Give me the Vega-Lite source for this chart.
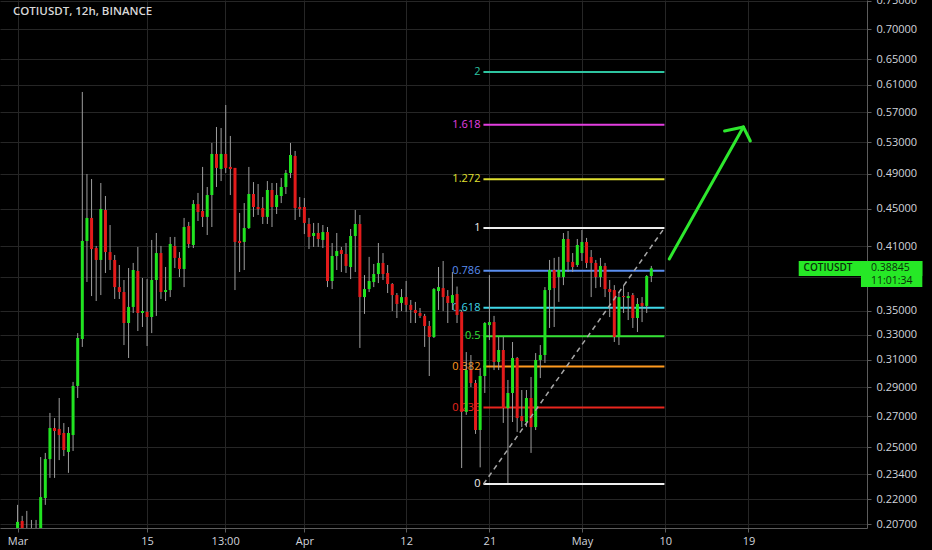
{
"$schema": "https://vega.github.io/schema/vega-lite/v6.json",
"width": 867,
"height": 528,
"autosize": {"type": "none"},
"padding": {"left": 0, "top": 0, "right": 65, "bottom": 22},
"background": "#000000",
"config": {
  "view": {"stroke": null},
  "axis": {"gridColor": "#262626", "gridWidth": 1, "domainColor": "#5c5c5c", "tickColor": "#5c5c5c", "labelColor": "#d1d4dc", "labelFont": "Open Sans", "labelFontSize": 11, "tickSize": 4}
},
"layer": [
  {
    "data": {"values": [
      {"lv": "0", "p": 0.2284}, {"lv": "0.236", "p": 0.2757}, {"lv": "0.382", "p": 0.3050}, {"lv": "0.5", "p": 0.3287}, {"lv": "0.618", "p": 0.3524},
      {"lv": "0.786", "p": 0.3861}, {"lv": "1", "p": 0.4290}, {"lv": "1.272", "p": 0.4836}, {"lv": "1.618", "p": 0.5530}, {"lv": "2", "p": 0.6296}
    ]},
    "mark": {"type": "rule", "strokeWidth": 2},
    "encoding": {
      "x": {"datum": {"year": 2021, "month": 4, "date": 20, "hours": 8, "minutes": 30, "utc": true}, "type": "temporal", "title": null,
        "scale": {"type": "utc", "nice": false, "domain": [{"year": 2021, "month": 2, "date": 27, "hours": 15, "minutes": 26, "utc": true}, {"year": 2021, "month": 5, "date": 31, "hours": 6, "minutes": 30, "utc": true}]},
        "axis": {"orient": "bottom", "grid": true, "labelOverlap": false, "labelFlush": false, "labelPadding": 3,
          "values": [
            {"year": 2021, "month": 3, "date": 1, "utc": true},
            {"year": 2021, "month": 3, "date": 15, "utc": true},
            {"year": 2021, "month": 3, "date": 23, "hours": 10, "minutes": 30, "utc": true},
            {"year": 2021, "month": 4, "date": 1, "utc": true},
            {"year": 2021, "month": 4, "date": 12, "utc": true},
            {"year": 2021, "month": 4, "date": 21, "utc": true},
            {"year": 2021, "month": 5, "date": 1, "utc": true},
            {"year": 2021, "month": 5, "date": 10, "utc": true},
            {"year": 2021, "month": 5, "date": 19, "utc": true}
          ],
          "labelExpr": "utchours(datum.value) == 10 ? '13:00' : (utcdate(datum.value) == 1 ? utcFormat(datum.value, '%b') : utcFormat(datum.value, '%d'))"}},
      "x2": {"datum": {"year": 2021, "month": 5, "date": 9, "hours": 22, "utc": true}},
      "y": {"field": "p", "type": "quantitative", "title": null,
        "scale": {"type": "log", "nice": false, "zero": false, "domain": [0.205, 0.7518]},
        "axis": {"orient": "right", "grid": true, "labelAlign": "left", "labelPadding": 5, "labelOverlap": false,
          "values": [0.207, 0.22, 0.234, 0.25, 0.27, 0.29, 0.31, 0.33, 0.35, 0.38, 0.41, 0.45, 0.49, 0.53, 0.57, 0.61, 0.65, 0.7, 0.75],
          "labelExpr": "datum.value == 0.38 ? '' : format(datum.value, '.5f')"}},
      "color": {"field": "lv", "type": "nominal", "legend": null,
        "scale": {"domain": ["0", "0.236", "0.382", "0.5", "0.618", "0.786", "1", "1.272", "1.618", "2"],
          "range": ["#eeeeee", "#e8261e", "#ff9a1f", "#33e033", "#3fd8e8", "#5a8ef0", "#eeeeee", "#e0e030", "#e33fe0", "#2ec4a0"]}}
    }
  },
  {
    "data": {"values": [
      {"lv": "0", "p": 0.2284}, {"lv": "0.236", "p": 0.2757}, {"lv": "0.382", "p": 0.3050}, {"lv": "0.5", "p": 0.3287}, {"lv": "0.618", "p": 0.3524},
      {"lv": "0.786", "p": 0.3861}, {"lv": "1", "p": 0.4290}, {"lv": "1.272", "p": 0.4836}, {"lv": "1.618", "p": 0.5530}, {"lv": "2", "p": 0.6296}
    ]},
    "mark": {"type": "text", "align": "right", "baseline": "middle", "dx": -3, "font": "Open Sans", "fontSize": 11},
    "encoding": {
      "x": {"datum": {"year": 2021, "month": 4, "date": 20, "hours": 8, "minutes": 30, "utc": true}, "type": "temporal", "title": null,
        "scale": {"type": "utc", "nice": false, "domain": [{"year": 2021, "month": 2, "date": 27, "hours": 15, "minutes": 26, "utc": true}, {"year": 2021, "month": 5, "date": 31, "hours": 6, "minutes": 30, "utc": true}]}},
      "y": {"field": "p", "type": "quantitative", "title": null, "scale": {"type": "log", "nice": false, "zero": false, "domain": [0.205, 0.7518]}},
      "text": {"field": "lv"},
      "color": {"field": "lv", "type": "nominal", "legend": null}
    }
  },
  {
    "data": {"values": [
{"t":"2021-03-01 00","o":0.2045,"h":0.2170,"l":0.2025,"c":0.2081},
{"t":"2021-03-01 12","o":0.2086,"h":0.2112,"l":0.2035,"c":0.2050},
{"t":"2021-03-02 00","o":0.2030,"h":0.2138,"l":0.1980,"c":0.2010},
{"t":"2021-03-02 12","o":0.2005,"h":0.2091,"l":0.1970,"c":0.2020},
{"t":"2021-03-03 00","o":0.2020,"h":0.2091,"l":0.1990,"c":0.2035},
{"t":"2021-03-03 12","o":0.2035,"h":0.2441,"l":0.2015,"c":0.2212},
{"t":"2021-03-04 00","o":0.2207,"h":0.2466,"l":0.2170,"c":0.2429},
{"t":"2021-03-04 12","o":0.2429,"h":0.2721,"l":0.2319,"c":0.2622},
{"t":"2021-03-05 00","o":0.2622,"h":0.2687,"l":0.2319,"c":0.2603},
{"t":"2021-03-05 12","o":0.2616,"h":0.2823,"l":0.2423,"c":0.2577},
{"t":"2021-03-06 00","o":0.2590,"h":0.2654,"l":0.2447,"c":0.2484},
{"t":"2021-03-06 12","o":0.2472,"h":0.2628,"l":0.2348,"c":0.2590},
{"t":"2021-03-07 00","o":0.2577,"h":0.2937,"l":0.2478,"c":0.2908},
{"t":"2021-03-07 12","o":0.2908,"h":0.3312,"l":0.2823,"c":0.3272},
{"t":"2021-03-08 00","o":0.3264,"h":0.5995,"l":0.3201,"c":0.4155},
{"t":"2021-03-08 12","o":0.4155,"h":0.4899,"l":0.3756,"c":0.4397},
{"t":"2021-03-09 00","o":0.4397,"h":0.4839,"l":0.3628,"c":0.4073},
{"t":"2021-03-09 12","o":0.4083,"h":0.4104,"l":0.3584,"c":0.3965},
{"t":"2021-03-10 00","o":0.3965,"h":0.4792,"l":0.3637,"c":0.4495},
{"t":"2021-03-10 12","o":0.4484,"h":0.4641,"l":0.3840,"c":0.4043},
{"t":"2021-03-11 00","o":0.4043,"h":0.4321,"l":0.3868,"c":0.3965},
{"t":"2021-03-11 12","o":0.3965,"h":0.4014,"l":0.3602,"c":0.3709},
{"t":"2021-03-12 00","o":0.3709,"h":0.3916,"l":0.3602,"c":0.3664},
{"t":"2021-03-12 12","o":0.3664,"h":0.3774,"l":0.3216,"c":0.3395},
{"t":"2021-03-13 00","o":0.3395,"h":0.3887,"l":0.3115,"c":0.3532},
{"t":"2021-03-13 12","o":0.3532,"h":0.3936,"l":0.3480,"c":0.3868},
{"t":"2021-03-14 00","o":0.3859,"h":0.4094,"l":0.3329,"c":0.3480},
{"t":"2021-03-14 12","o":0.3480,"h":0.3793,"l":0.3362,"c":0.3497},
{"t":"2021-03-15 00","o":0.3489,"h":0.3783,"l":0.3208,"c":0.3446},
{"t":"2021-03-15 12","o":0.3446,"h":0.4165,"l":0.3312,"c":0.3774},
{"t":"2021-03-16 00","o":0.3774,"h":0.4237,"l":0.3455,"c":0.4033},
{"t":"2021-03-16 12","o":0.4033,"h":0.4104,"l":0.3602,"c":0.3664},
{"t":"2021-03-17 00","o":0.3664,"h":0.3897,"l":0.3584,"c":0.3682},
{"t":"2021-03-17 12","o":0.3682,"h":0.4196,"l":0.3619,"c":0.4124},
{"t":"2021-03-18 00","o":0.4104,"h":0.4196,"l":0.3887,"c":0.3985},
{"t":"2021-03-18 12","o":0.3985,"h":0.4043,"l":0.3802,"c":0.3878},
{"t":"2021-03-19 00","o":0.3878,"h":0.4397,"l":0.3709,"c":0.4300},
{"t":"2021-03-19 12","o":0.4310,"h":0.4354,"l":0.4083,"c":0.4124},
{"t":"2021-03-20 00","o":0.4114,"h":0.4595,"l":0.4083,"c":0.4550},
{"t":"2021-03-20 12","o":0.4550,"h":0.4676,"l":0.4364,"c":0.4462},
{"t":"2021-03-21 00","o":0.4473,"h":0.4985,"l":0.4300,"c":0.4408},
{"t":"2021-03-21 12","o":0.4408,"h":0.4745,"l":0.4216,"c":0.4652},
{"t":"2021-03-22 00","o":0.4652,"h":0.5288,"l":0.4300,"c":0.5147},
{"t":"2021-03-22 12","o":0.5147,"h":0.5500,"l":0.4745,"c":0.4973},
{"t":"2021-03-23 00","o":0.4960,"h":0.5486,"l":0.4815,"c":0.5147},
{"t":"2021-03-23 12","o":0.5147,"h":0.5806,"l":0.4912,"c":0.4973},
{"t":"2021-03-24 00","o":0.4985,"h":0.5380,"l":0.4652,"c":0.4960},
{"t":"2021-03-24 12","o":0.4973,"h":0.4973,"l":0.3682,"c":0.4145},
{"t":"2021-03-25 00","o":0.4155,"h":0.4451,"l":0.3849,"c":0.4134},
{"t":"2021-03-25 12","o":0.4145,"h":0.4561,"l":0.3868,"c":0.4289},
{"t":"2021-03-26 00","o":0.4289,"h":0.4985,"l":0.4279,"c":0.4664},
{"t":"2021-03-26 12","o":0.4664,"h":0.4803,"l":0.4408,"c":0.4517},
{"t":"2021-03-27 00","o":0.4517,"h":0.4780,"l":0.4429,"c":0.4495},
{"t":"2021-03-27 12","o":0.4506,"h":0.4629,"l":0.4332,"c":0.4408},
{"t":"2021-03-28 00","o":0.4408,"h":0.4815,"l":0.4332,"c":0.4710},
{"t":"2021-03-28 12","o":0.4710,"h":0.4792,"l":0.4300,"c":0.4517},
{"t":"2021-03-29 00","o":0.4517,"h":0.4792,"l":0.4440,"c":0.4652},
{"t":"2021-03-29 12","o":0.4641,"h":0.4851,"l":0.4561,"c":0.4745},
{"t":"2021-03-30 00","o":0.4745,"h":0.4948,"l":0.4664,"c":0.4912},
{"t":"2021-03-30 12","o":0.4912,"h":0.5288,"l":0.4851,"c":0.5134},
{"t":"2021-03-31 00","o":0.5122,"h":0.5185,"l":0.4375,"c":0.4506},
{"t":"2021-03-31 12","o":0.4517,"h":0.4629,"l":0.4408,"c":0.4495},
{"t":"2021-04-01 00","o":0.4517,"h":0.4618,"l":0.4226,"c":0.4343},
{"t":"2021-04-01 12","o":0.4332,"h":0.4397,"l":0.4073,"c":0.4196},
{"t":"2021-04-02 00","o":0.4206,"h":0.4343,"l":0.4094,"c":0.4237},
{"t":"2021-04-02 12","o":0.4237,"h":0.4343,"l":0.4094,"c":0.4175},
{"t":"2021-04-03 00","o":0.4165,"h":0.4321,"l":0.4083,"c":0.4247},
{"t":"2021-04-03 12","o":0.4247,"h":0.4300,"l":0.3709,"c":0.3765},
{"t":"2021-04-04 00","o":0.3765,"h":0.4134,"l":0.3691,"c":0.4004},
{"t":"2021-04-04 12","o":0.4004,"h":0.4237,"l":0.3868,"c":0.4053},
{"t":"2021-04-05 00","o":0.4063,"h":0.4094,"l":0.3849,"c":0.4024},
{"t":"2021-04-05 12","o":0.4024,"h":0.4134,"l":0.3840,"c":0.3907},
{"t":"2021-04-06 00","o":0.3897,"h":0.4279,"l":0.3783,"c":0.4206},
{"t":"2021-04-06 12","o":0.4206,"h":0.4484,"l":0.3849,"c":0.4332},
{"t":"2021-04-07 00","o":0.4332,"h":0.4429,"l":0.3193,"c":0.3619},
{"t":"2021-04-07 12","o":0.3619,"h":0.3820,"l":0.3472,"c":0.3691},
{"t":"2021-04-08 00","o":0.3691,"h":0.3995,"l":0.3664,"c":0.3765},
{"t":"2021-04-08 12","o":0.3755,"h":0.3926,"l":0.3709,"c":0.3830},
{"t":"2021-04-09 00","o":0.3830,"h":0.4134,"l":0.3746,"c":0.3936},
{"t":"2021-04-09 12","o":0.3936,"h":0.4033,"l":0.3774,"c":0.3830},
{"t":"2021-04-10 00","o":0.3840,"h":0.3916,"l":0.3655,"c":0.3737},
{"t":"2021-04-10 12","o":0.3737,"h":0.3746,"l":0.3497,"c":0.3637},
{"t":"2021-04-11 00","o":0.3637,"h":0.3655,"l":0.3437,"c":0.3558},
{"t":"2021-04-11 12","o":0.3567,"h":0.3691,"l":0.3497,"c":0.3619},
{"t":"2021-04-12 00","o":0.3619,"h":0.3765,"l":0.3489,"c":0.3550},
{"t":"2021-04-12 12","o":0.3550,"h":0.3593,"l":0.3395,"c":0.3506},
{"t":"2021-04-13 00","o":0.3506,"h":0.3576,"l":0.3395,"c":0.3480},
{"t":"2021-04-13 12","o":0.3480,"h":0.3523,"l":0.3437,"c":0.3455},
{"t":"2021-04-14 00","o":0.3455,"h":0.3472,"l":0.3201,"c":0.3370},
{"t":"2021-04-14 12","o":0.3370,"h":0.3412,"l":0.2980,"c":0.3280},
{"t":"2021-04-15 00","o":0.3280,"h":0.3700,"l":0.3272,"c":0.3691},
{"t":"2021-04-15 12","o":0.3673,"h":0.3897,"l":0.3506,"c":0.3709},
{"t":"2021-04-16 00","o":0.3700,"h":0.3955,"l":0.3497,"c":0.3619},
{"t":"2021-04-16 12","o":0.3628,"h":0.3682,"l":0.3395,"c":0.3567},
{"t":"2021-04-17 00","o":0.3567,"h":0.3849,"l":0.3506,"c":0.3637},
{"t":"2021-04-17 12","o":0.3646,"h":0.3714,"l":0.3395,"c":0.3463},
{"t":"2021-04-18 00","o":0.3489,"h":0.3506,"l":0.2376,"c":0.2728},
{"t":"2021-04-18 12","o":0.2728,"h":0.3161,"l":0.2708,"c":0.3024},
{"t":"2021-04-19 00","o":0.3024,"h":0.3138,"l":0.2900,"c":0.2929},
{"t":"2021-04-19 12","o":0.2929,"h":0.2951,"l":0.2584,"c":0.2609},
{"t":"2021-04-20 00","o":0.2609,"h":0.3040,"l":0.2380,"c":0.2980},
{"t":"2021-04-20 12","o":0.2980,"h":0.3403,"l":0.2858,"c":0.3395},
{"t":"2021-04-21 00","o":0.3378,"h":0.3820,"l":0.3256,"c":0.3403},
{"t":"2021-04-21 12","o":0.3403,"h":0.3455,"l":0.3024,"c":0.3085},
{"t":"2021-04-22 00","o":0.3085,"h":0.3280,"l":0.3024,"c":0.3177},
{"t":"2021-04-22 12","o":0.3177,"h":0.3280,"l":0.2655,"c":0.2754},
{"t":"2021-04-23 00","o":0.2754,"h":0.2951,"l":0.2290,"c":0.2858},
{"t":"2021-04-23 12","o":0.2858,"h":0.3240,"l":0.2661,"c":0.3115},
{"t":"2021-04-24 00","o":0.3115,"h":0.3123,"l":0.2597,"c":0.2687},
{"t":"2021-04-24 12","o":0.2700,"h":0.2879,"l":0.2628,"c":0.2668},
{"t":"2021-04-25 00","o":0.2661,"h":0.2879,"l":0.2628,"c":0.2823},
{"t":"2021-04-25 12","o":0.2823,"h":0.2973,"l":0.2466,"c":0.2628},
{"t":"2021-04-26 00","o":0.2628,"h":0.3153,"l":0.2609,"c":0.3100},
{"t":"2021-04-26 12","o":0.3100,"h":0.3216,"l":0.2965,"c":0.3138},
{"t":"2021-04-27 00","o":0.3138,"h":0.3709,"l":0.3077,"c":0.3682},
{"t":"2021-04-27 12","o":0.3682,"h":0.3965,"l":0.3354,"c":0.3868},
{"t":"2021-04-28 00","o":0.3868,"h":0.3985,"l":0.3362,"c":0.3700},
{"t":"2021-04-28 12","o":0.3802,"h":0.3995,"l":0.3576,"c":0.3868},
{"t":"2021-04-29 00","o":0.3802,"h":0.4237,"l":0.3727,"c":0.4175},
{"t":"2021-04-29 12","o":0.4175,"h":0.4258,"l":0.3849,"c":0.3946},
{"t":"2021-04-30 00","o":0.3946,"h":0.4033,"l":0.3849,"c":0.3897},
{"t":"2021-04-30 12","o":0.3916,"h":0.4175,"l":0.3897,"c":0.4114},
{"t":"2021-05-01 00","o":0.4033,"h":0.4268,"l":0.3955,"c":0.4144},
{"t":"2021-05-01 12","o":0.4144,"h":0.4186,"l":0.3887,"c":0.3936},
{"t":"2021-05-02 00","o":0.3994,"h":0.4063,"l":0.3619,"c":0.3936},
{"t":"2021-05-02 12","o":0.3936,"h":0.3965,"l":0.3700,"c":0.3802},
{"t":"2021-05-03 00","o":0.3802,"h":0.3985,"l":0.3709,"c":0.3907},
{"t":"2021-05-03 12","o":0.3907,"h":0.3936,"l":0.3619,"c":0.3691},
{"t":"2021-05-04 00","o":0.3691,"h":0.3774,"l":0.3445,"c":0.3664},
{"t":"2021-05-04 12","o":0.3682,"h":0.3727,"l":0.3240,"c":0.3280},
{"t":"2021-05-05 00","o":0.3280,"h":0.3664,"l":0.3216,"c":0.3619},
{"t":"2021-05-05 12","o":0.3628,"h":0.3727,"l":0.3480,"c":0.3619},
{"t":"2021-05-06 00","o":0.3610,"h":0.3664,"l":0.3420,"c":0.3628},
{"t":"2021-05-06 12","o":0.3637,"h":0.3655,"l":0.3354,"c":0.3437},
{"t":"2021-05-07 00","o":0.3437,"h":0.3610,"l":0.3321,"c":0.3558},
{"t":"2021-05-07 12","o":0.3567,"h":0.3619,"l":0.3403,"c":0.3541},
{"t":"2021-05-08 00","o":0.3541,"h":0.3820,"l":0.3480,"c":0.3811},
{"t":"2021-05-08 12","o":0.3811,"h":0.3907,"l":0.3755,"c":0.38845}
    ], "format": {"parse": {"t": "utc:'%Y-%m-%d %H'"}}},
    "layer": [
      {
        "mark": {"type": "rule", "color": "#9e9e9e", "strokeWidth": 1, "clip": true},
        "encoding": {
          "x": {"field": "t", "type": "temporal", "title": null, "scale": {"type": "utc", "nice": false, "domain": [{"year": 2021, "month": 2, "date": 27, "hours": 15, "minutes": 26, "utc": true}, {"year": 2021, "month": 5, "date": 31, "hours": 6, "minutes": 30, "utc": true}]}},
          "y": {"field": "l", "type": "quantitative", "title": null, "scale": {"type": "log", "nice": false, "zero": false, "domain": [0.205, 0.7518]}},
          "y2": {"field": "h"}
        }
      },
      {
        "mark": {"type": "bar", "size": 3, "clip": true},
        "encoding": {
          "x": {"field": "t", "type": "temporal", "title": null, "scale": {"type": "utc", "nice": false, "domain": [{"year": 2021, "month": 2, "date": 27, "hours": 15, "minutes": 26, "utc": true}, {"year": 2021, "month": 5, "date": 31, "hours": 6, "minutes": 30, "utc": true}]}},
          "y": {"field": "o", "type": "quantitative", "title": null, "scale": {"type": "log", "nice": false, "zero": false, "domain": [0.205, 0.7518]}},
          "y2": {"field": "c"},
          "color": {"condition": {"test": "datum.c >= datum.o", "value": "#21e321"}, "value": "#e31b1b"}
        }
      }
    ]
  },
  {
    "data": {"values": [{"from": 0.2284, "to": 0.429}]},
    "mark": {"type": "rule", "color": "#a8a8a8", "strokeWidth": 1.5, "strokeDash": [5, 4]},
    "encoding": {
      "x": {"datum": {"year": 2021, "month": 4, "date": 20, "hours": 8, "minutes": 30, "utc": true}, "type": "temporal", "title": null, "scale": {"type": "utc", "nice": false, "domain": [{"year": 2021, "month": 2, "date": 27, "hours": 15, "minutes": 26, "utc": true}, {"year": 2021, "month": 5, "date": 31, "hours": 6, "minutes": 30, "utc": true}]}},
      "x2": {"datum": {"year": 2021, "month": 5, "date": 9, "hours": 22, "utc": true}},
      "y": {"field": "from", "type": "quantitative", "title": null, "scale": {"type": "log", "nice": false, "zero": false, "domain": [0.205, 0.7518]}},
      "y2": {"field": "to"}
    }
  },
  {
    "data": {"values": [
      {"t1": "2021-05-10T10:30:00Z", "p1": 0.3975, "t2": "2021-05-18T10:50:00Z", "p2": 0.5500},
      {"t1": "2021-05-16T10:00:00Z", "p1": 0.5446, "t2": "2021-05-18T10:50:00Z", "p2": 0.5500},
      {"t1": "2021-05-19T04:50:00Z", "p1": 0.5314, "t2": "2021-05-18T10:50:00Z", "p2": 0.5500}
    ], "format": {"parse": {"t1": "date", "t2": "date"}}},
    "mark": {"type": "rule", "color": "#2ee82e", "strokeWidth": 3, "strokeCap": "round"},
    "encoding": {
      "x": {"field": "t1", "type": "temporal", "title": null, "scale": {"type": "utc", "nice": false, "domain": [{"year": 2021, "month": 2, "date": 27, "hours": 15, "minutes": 26, "utc": true}, {"year": 2021, "month": 5, "date": 31, "hours": 6, "minutes": 30, "utc": true}]}},
      "x2": {"field": "t2"},
      "y": {"field": "p1", "type": "quantitative", "title": null, "scale": {"type": "log", "nice": false, "zero": false, "domain": [0.205, 0.7518]}},
      "y2": {"field": "p2"}
    }
  },
  {
    "data": {"values": [{"caption": "COTIUSDT, 12h, BINANCE"}]},
    "mark": {"type": "text", "align": "left", "baseline": "middle", "dx": 8, "dy": 12, "font": "Open Sans", "fontSize": 11.5, "fontWeight": 600, "color": "#d8d8d8"},
    "encoding": {
      "x": {"datum": {"year": 2021, "month": 2, "date": 27, "hours": 15, "minutes": 26, "utc": true}, "type": "temporal", "title": null, "scale": {"type": "utc", "nice": false, "domain": [{"year": 2021, "month": 2, "date": 27, "hours": 15, "minutes": 26, "utc": true}, {"year": 2021, "month": 5, "date": 31, "hours": 6, "minutes": 30, "utc": true}]}},
      "y": {"datum": 0.7518, "type": "quantitative", "title": null, "scale": {"type": "log", "nice": false, "zero": false, "domain": [0.205, 0.7518]}},
      "text": {"field": "caption"}
    }
  },
  {
    "data": {"values": [{"sym": "COTIUSDT", "last": 0.38845, "timer": "11:01:34"}]},
    "layer": [
      {
        "mark": {"type": "rect", "color": "#26e826"},
        "encoding": {
          "x": {"datum": {"year": 2021, "month": 5, "date": 24, "hours": 10, "minutes": 20, "utc": true}, "type": "temporal", "title": null, "scale": {"type": "utc", "nice": false, "domain": [{"year": 2021, "month": 2, "date": 27, "hours": 15, "minutes": 26, "utc": true}, {"year": 2021, "month": 5, "date": 31, "hours": 6, "minutes": 30, "utc": true}]}},
          "x2": {"datum": {"year": 2021, "month": 6, "date": 6, "hours": 19, "utc": true}},
          "y": {"datum": 0.3955, "type": "quantitative", "title": null, "scale": {"type": "log", "nice": false, "zero": false, "domain": [0.205, 0.7518]}},
          "y2": {"datum": 0.3812}
        }
      },
      {
        "mark": {"type": "rect", "color": "#26e826"},
        "encoding": {
          "x": {"datum": {"year": 2021, "month": 5, "date": 31, "hours": 3, "minutes": 50, "utc": true}, "type": "temporal", "title": null, "scale": {"type": "utc", "nice": false, "domain": [{"year": 2021, "month": 2, "date": 27, "hours": 15, "minutes": 26, "utc": true}, {"year": 2021, "month": 5, "date": 31, "hours": 6, "minutes": 30, "utc": true}]}},
          "x2": {"datum": {"year": 2021, "month": 6, "date": 6, "hours": 19, "utc": true}},
          "y": {"datum": 0.3955, "type": "quantitative", "title": null, "scale": {"type": "log", "nice": false, "zero": false, "domain": [0.205, 0.7518]}},
          "y2": {"datum": 0.3710}
        }
      },
      {
        "mark": {"type": "text", "align": "left", "baseline": "middle", "font": "Open Sans", "fontSize": 10, "fontWeight": 600, "color": "#0b2e0b"},
        "encoding": {
          "x": {"datum": {"year": 2021, "month": 5, "date": 24, "hours": 23, "utc": true}, "type": "temporal", "title": null, "scale": {"type": "utc", "nice": false, "domain": [{"year": 2021, "month": 2, "date": 27, "hours": 15, "minutes": 26, "utc": true}, {"year": 2021, "month": 5, "date": 31, "hours": 6, "minutes": 30, "utc": true}]}},
          "y": {"field": "last", "type": "quantitative", "title": null, "scale": {"type": "log", "nice": false, "zero": false, "domain": [0.205, 0.7518]}},
          "text": {"field": "sym"}
        }
      },
      {
        "mark": {"type": "text", "align": "left", "baseline": "middle", "dx": 9, "font": "Open Sans", "fontSize": 10.5, "color": "#0b2e0b"},
        "encoding": {
          "x": {"datum": {"year": 2021, "month": 5, "date": 31, "hours": 6, "minutes": 30, "utc": true}, "type": "temporal", "title": null, "scale": {"type": "utc", "nice": false, "domain": [{"year": 2021, "month": 2, "date": 27, "hours": 15, "minutes": 26, "utc": true}, {"year": 2021, "month": 5, "date": 31, "hours": 6, "minutes": 30, "utc": true}]}},
          "y": {"field": "last", "type": "quantitative", "title": null, "scale": {"type": "log", "nice": false, "zero": false, "domain": [0.205, 0.7518]}},
          "text": {"field": "last", "format": ".5f"}
        }
      },
      {
        "mark": {"type": "text", "align": "left", "baseline": "middle", "dx": 9, "dy": 13, "font": "Open Sans", "fontSize": 10.5, "color": "#0b2e0b"},
        "encoding": {
          "x": {"datum": {"year": 2021, "month": 5, "date": 31, "hours": 6, "minutes": 30, "utc": true}, "type": "temporal", "title": null, "scale": {"type": "utc", "nice": false, "domain": [{"year": 2021, "month": 2, "date": 27, "hours": 15, "minutes": 26, "utc": true}, {"year": 2021, "month": 5, "date": 31, "hours": 6, "minutes": 30, "utc": true}]}},
          "y": {"field": "last", "type": "quantitative", "title": null, "scale": {"type": "log", "nice": false, "zero": false, "domain": [0.205, 0.7518]}},
          "text": {"field": "timer"}
        }
      }
    ]
  }
]
}
